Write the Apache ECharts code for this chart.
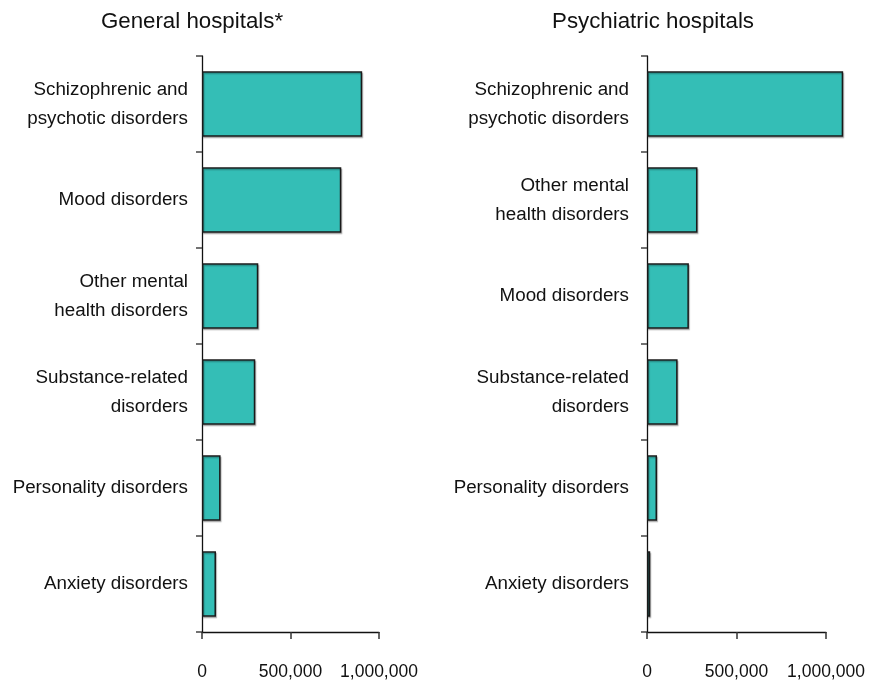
<!DOCTYPE html>
<html>
<head>
<meta charset="utf-8">
<script src="https://cdn.jsdelivr.net/npm/echarts@6/dist/echarts.min.js"></script>
<style>
html,body{margin:0;padding:0;background:#fff;}
#c{width:886px;height:685px;}
</style>
</head>
<body>
<div id="c"></div>
<script>
var generalCategories = ['Schizophrenic and\npsychotic disorders', 'Mood disorders', 'Other mental\nhealth disorders', 'Substance-related\ndisorders', 'Personality disorders', 'Anxiety disorders'];
var generalValues = [905000, 787000, 318000, 301000, 105000, 79000];
var psychCategories = ['Schizophrenic and\npsychotic disorders', 'Other mental\nhealth disorders', 'Mood disorders', 'Substance-related\ndisorders', 'Personality disorders', 'Anxiety disorders'];
var psychValues = [1096000, 282000, 234000, 171000, 56000, 18000];
var xTicks = [0, 500000, 1000000];
var titles = ['General hospitals*', 'Psychiatric hospitals'];

var font = 'Liberation Sans, Arial, sans-serif';
function fmt(v){ return String(v).replace(/\B(?=(\d{3})+(?!\d))/g, ','); }

var chart = echarts.init(document.getElementById('c'), null, {renderer:'canvas'});
function xAxis(gi){
  return {
    type:'value', gridIndex:gi, min:xTicks[0], max:xTicks[xTicks.length-1], interval:xTicks[1]-xTicks[0],
    axisLine:{show:true, lineStyle:{color:'#111', width:1.3}},
    axisTick:{show:true, length:7, lineStyle:{color:'#333', width:1.5}},
    axisLabel:{margin:31, fontSize:17.5, color:'#111', fontFamily:font, formatter:fmt},
    splitLine:{show:false}
  };
}
function yAxis(gi, cats, margin){
  return {
    type:'category', gridIndex:gi, data:cats, inverse:true,
    axisLine:{show:true, lineStyle:{color:'#111', width:1.3}},
    axisTick:{show:true, length:6, lineStyle:{color:'#444', width:1.5}},
    axisLabel:{margin:margin, fontSize:18.8, lineHeight:29, color:'#111', fontFamily:font, align:'right'}
  };
}
function barSeries(gi, vals){
  return {
    type:'bar', xAxisIndex:gi, yAxisIndex:gi, data:vals, barCategoryGap:'32%', clip:false,
    itemStyle:{color:'#34BEB6', borderColor:'#1a1a1a', borderWidth:1.5,
      shadowColor:'rgba(0,0,0,0.25)', shadowOffsetX:1, shadowOffsetY:1.5, shadowBlur:1},
    silent:true
  };
}
chart.setOption({
  animation:false,
  backgroundColor:'#fff',
  title:[
    {text:titles[0], left:187, top:6, textAlign:'center', textStyle:{fontSize:22.3, fontWeight:'normal', color:'#111', fontFamily:font}},
    {text:titles[1], left:648, top:6, textAlign:'center', textStyle:{fontSize:22.3, fontWeight:'normal', color:'#111', fontFamily:font}}
  ],
  grid:[
    {left:202, top:56, width:177, height:576, containLabel:false, outerBoundsMode:'none'},
    {left:647, top:56, width:179, height:576, containLabel:false, outerBoundsMode:'none'}
  ],
  xAxis:[xAxis(0), xAxis(1)],
  yAxis:[yAxis(0, generalCategories, 14), yAxis(1, psychCategories, 18)],
  series:[barSeries(0, generalValues), barSeries(1, psychValues)]
});
</script>
</body>
</html>
